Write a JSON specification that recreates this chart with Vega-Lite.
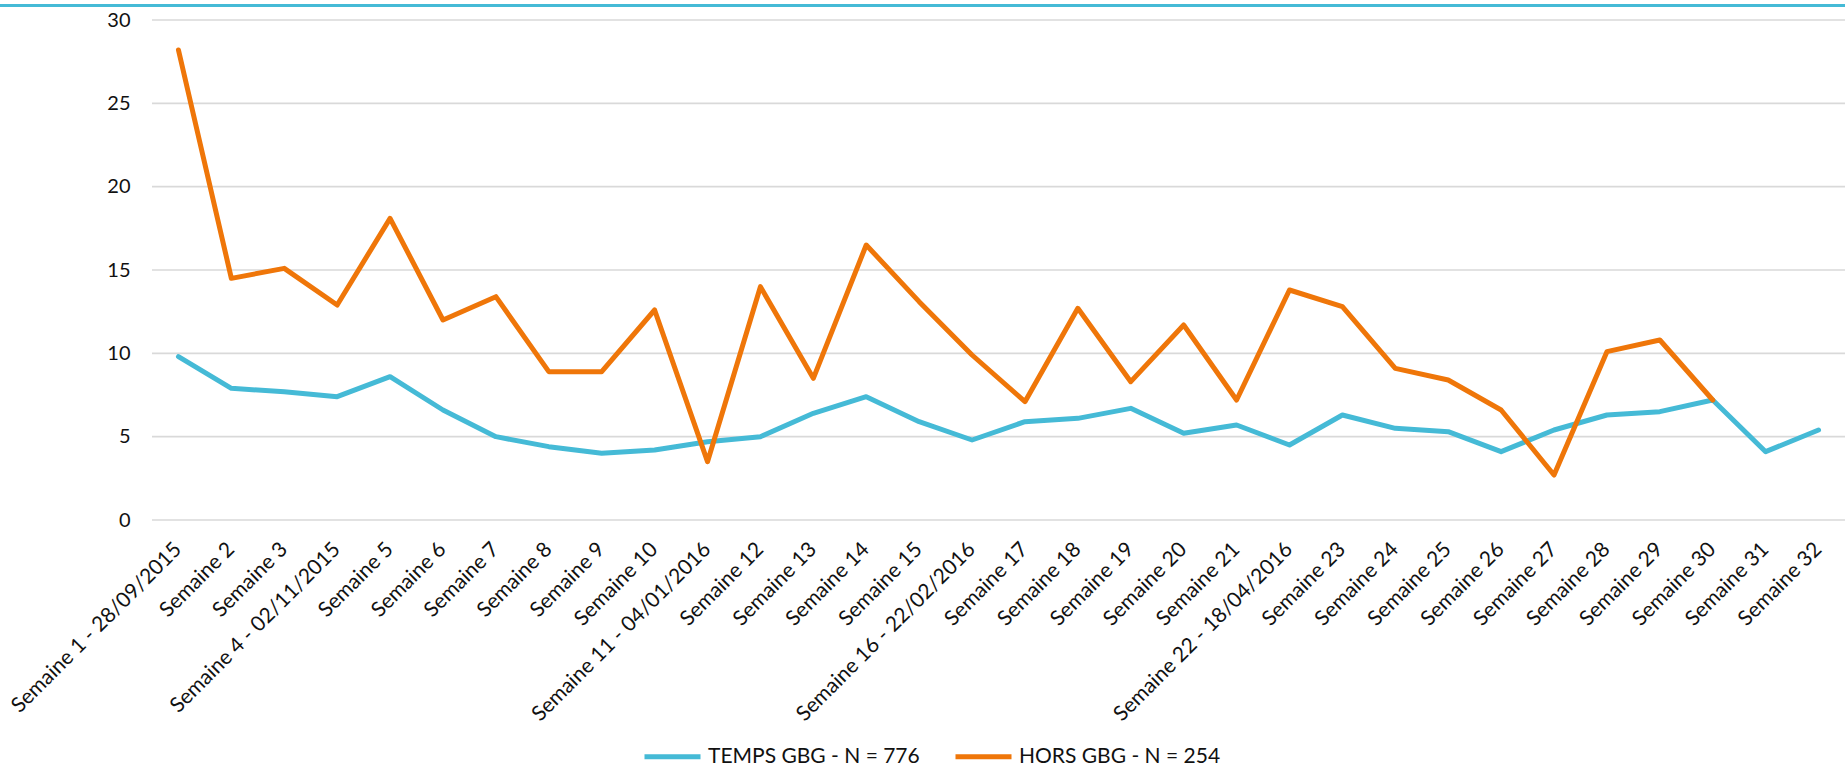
{
  "$schema": "https://vega.github.io/schema/vega-lite/v6.json",
  "width": 1845,
  "height": 500,
  "autosize": {"type": "none"},
  "padding": {"left": 0, "top": 20, "right": 0, "bottom": 259},
  "config": {
    "view": {"stroke": null},
    "font": "Lato",
    "axis": {"labelFont": "Lato", "labelColor": "#111111"}
  },
  "datasets": {
    "grille": [{"v": 0}, {"v": 5}, {"v": 10}, {"v": 15}, {"v": 20}, {"v": 25}, {"v": 30}],
    "semaines": [
      {"semaine": "Semaine 1 - 28/09/2015", "serie": "TEMPS GBG - N = 776", "valeur": 9.8},
      {"semaine": "Semaine 2", "serie": "TEMPS GBG - N = 776", "valeur": 7.9},
      {"semaine": "Semaine 3", "serie": "TEMPS GBG - N = 776", "valeur": 7.7},
      {"semaine": "Semaine 4 - 02/11/2015", "serie": "TEMPS GBG - N = 776", "valeur": 7.4},
      {"semaine": "Semaine 5", "serie": "TEMPS GBG - N = 776", "valeur": 8.6},
      {"semaine": "Semaine 6", "serie": "TEMPS GBG - N = 776", "valeur": 6.6},
      {"semaine": "Semaine 7", "serie": "TEMPS GBG - N = 776", "valeur": 5.0},
      {"semaine": "Semaine 8", "serie": "TEMPS GBG - N = 776", "valeur": 4.4},
      {"semaine": "Semaine 9", "serie": "TEMPS GBG - N = 776", "valeur": 4.0},
      {"semaine": "Semaine 10", "serie": "TEMPS GBG - N = 776", "valeur": 4.2},
      {"semaine": "Semaine 11 - 04/01/2016", "serie": "TEMPS GBG - N = 776", "valeur": 4.7},
      {"semaine": "Semaine 12", "serie": "TEMPS GBG - N = 776", "valeur": 5.0},
      {"semaine": "Semaine 13", "serie": "TEMPS GBG - N = 776", "valeur": 6.4},
      {"semaine": "Semaine 14", "serie": "TEMPS GBG - N = 776", "valeur": 7.4},
      {"semaine": "Semaine 15", "serie": "TEMPS GBG - N = 776", "valeur": 5.9},
      {"semaine": "Semaine 16 - 22/02/2016", "serie": "TEMPS GBG - N = 776", "valeur": 4.8},
      {"semaine": "Semaine 17", "serie": "TEMPS GBG - N = 776", "valeur": 5.9},
      {"semaine": "Semaine 18", "serie": "TEMPS GBG - N = 776", "valeur": 6.1},
      {"semaine": "Semaine 19", "serie": "TEMPS GBG - N = 776", "valeur": 6.7},
      {"semaine": "Semaine 20", "serie": "TEMPS GBG - N = 776", "valeur": 5.2},
      {"semaine": "Semaine 21", "serie": "TEMPS GBG - N = 776", "valeur": 5.7},
      {"semaine": "Semaine 22 - 18/04/2016", "serie": "TEMPS GBG - N = 776", "valeur": 4.5},
      {"semaine": "Semaine 23", "serie": "TEMPS GBG - N = 776", "valeur": 6.3},
      {"semaine": "Semaine 24", "serie": "TEMPS GBG - N = 776", "valeur": 5.5},
      {"semaine": "Semaine 25", "serie": "TEMPS GBG - N = 776", "valeur": 5.3},
      {"semaine": "Semaine 26", "serie": "TEMPS GBG - N = 776", "valeur": 4.1},
      {"semaine": "Semaine 27", "serie": "TEMPS GBG - N = 776", "valeur": 5.4},
      {"semaine": "Semaine 28", "serie": "TEMPS GBG - N = 776", "valeur": 6.3},
      {"semaine": "Semaine 29", "serie": "TEMPS GBG - N = 776", "valeur": 6.5},
      {"semaine": "Semaine 30", "serie": "TEMPS GBG - N = 776", "valeur": 7.2},
      {"semaine": "Semaine 31", "serie": "TEMPS GBG - N = 776", "valeur": 4.1},
      {"semaine": "Semaine 32", "serie": "TEMPS GBG - N = 776", "valeur": 5.4},
      {"semaine": "Semaine 1 - 28/09/2015", "serie": "HORS GBG - N = 254", "valeur": 28.2},
      {"semaine": "Semaine 2", "serie": "HORS GBG - N = 254", "valeur": 14.5},
      {"semaine": "Semaine 3", "serie": "HORS GBG - N = 254", "valeur": 15.1},
      {"semaine": "Semaine 4 - 02/11/2015", "serie": "HORS GBG - N = 254", "valeur": 12.9},
      {"semaine": "Semaine 5", "serie": "HORS GBG - N = 254", "valeur": 18.1},
      {"semaine": "Semaine 6", "serie": "HORS GBG - N = 254", "valeur": 12.0},
      {"semaine": "Semaine 7", "serie": "HORS GBG - N = 254", "valeur": 13.4},
      {"semaine": "Semaine 8", "serie": "HORS GBG - N = 254", "valeur": 8.9},
      {"semaine": "Semaine 9", "serie": "HORS GBG - N = 254", "valeur": 8.9},
      {"semaine": "Semaine 10", "serie": "HORS GBG - N = 254", "valeur": 12.6},
      {"semaine": "Semaine 11 - 04/01/2016", "serie": "HORS GBG - N = 254", "valeur": 3.5},
      {"semaine": "Semaine 12", "serie": "HORS GBG - N = 254", "valeur": 14.0},
      {"semaine": "Semaine 13", "serie": "HORS GBG - N = 254", "valeur": 8.5},
      {"semaine": "Semaine 14", "serie": "HORS GBG - N = 254", "valeur": 16.5},
      {"semaine": "Semaine 15", "serie": "HORS GBG - N = 254", "valeur": 13.1},
      {"semaine": "Semaine 16 - 22/02/2016", "serie": "HORS GBG - N = 254", "valeur": 9.9},
      {"semaine": "Semaine 17", "serie": "HORS GBG - N = 254", "valeur": 7.1},
      {"semaine": "Semaine 18", "serie": "HORS GBG - N = 254", "valeur": 12.7},
      {"semaine": "Semaine 19", "serie": "HORS GBG - N = 254", "valeur": 8.3},
      {"semaine": "Semaine 20", "serie": "HORS GBG - N = 254", "valeur": 11.7},
      {"semaine": "Semaine 21", "serie": "HORS GBG - N = 254", "valeur": 7.2},
      {"semaine": "Semaine 22 - 18/04/2016", "serie": "HORS GBG - N = 254", "valeur": 13.8},
      {"semaine": "Semaine 23", "serie": "HORS GBG - N = 254", "valeur": 12.8},
      {"semaine": "Semaine 24", "serie": "HORS GBG - N = 254", "valeur": 9.1},
      {"semaine": "Semaine 25", "serie": "HORS GBG - N = 254", "valeur": 8.4},
      {"semaine": "Semaine 26", "serie": "HORS GBG - N = 254", "valeur": 6.6},
      {"semaine": "Semaine 27", "serie": "HORS GBG - N = 254", "valeur": 2.7},
      {"semaine": "Semaine 28", "serie": "HORS GBG - N = 254", "valeur": 10.1},
      {"semaine": "Semaine 29", "serie": "HORS GBG - N = 254", "valeur": 10.8},
      {"semaine": "Semaine 30", "serie": "HORS GBG - N = 254", "valeur": 7.2}
    ]
  },
  "layer": [
    {
      "data": {"name": "grille"},
      "mark": {"type": "rule", "color": "#D9D9D9", "strokeWidth": 1.7},
      "encoding": {
        "y": {
          "field": "v",
          "type": "quantitative",
          "scale": {"domain": [0, 30]},
          "axis": {
            "title": null,
            "domain": false,
            "ticks": false,
            "grid": false,
            "values": [0, 5, 10, 15, 20, 25, 30],
            "offset": -152,
            "labelPadding": 22,
            "labelFontSize": 20
          }
        },
        "x": {
          "datum": "Semaine 1 - 28/09/2015",
          "type": "nominal",
          "bandPosition": 0,
          "scale": {
            "type": "band",
            "domain": ["Semaine 1 - 28/09/2015", "Semaine 2", "Semaine 3", "Semaine 4 - 02/11/2015", "Semaine 5", "Semaine 6", "Semaine 7", "Semaine 8", "Semaine 9", "Semaine 10", "Semaine 11 - 04/01/2016", "Semaine 12", "Semaine 13", "Semaine 14", "Semaine 15", "Semaine 16 - 22/02/2016", "Semaine 17", "Semaine 18", "Semaine 19", "Semaine 20", "Semaine 21", "Semaine 22 - 18/04/2016", "Semaine 23", "Semaine 24", "Semaine 25", "Semaine 26", "Semaine 27", "Semaine 28", "Semaine 29", "Semaine 30", "Semaine 31", "Semaine 32"],
            "range": [152, 1845],
            "paddingInner": 0,
            "paddingOuter": 0,
            "round": false
          },
          "axis": {
            "title": null,
            "domain": false,
            "ticks": false,
            "grid": false,
            "labelAngle": -45,
            "labelAlign": "right",
            "labelBaseline": "middle",
            "labelPadding": 26,
            "labelFontSize": 21,
            "labelLimit": 400,
            "labelOverlap": false,
            "labelFlush": false
          }
        },
        "x2": {"value": "width"}
      }
    },
    {
      "data": {"name": "grille"},
      "mark": {"type": "rule", "color": "#45BAD6", "strokeWidth": 3},
      "encoding": {
        "y": {"datum": 30.87, "type": "quantitative"}
      }
    },
    {
      "data": {"name": "semaines"},
      "transform": [{"filter": "datum.serie === 'TEMPS GBG - N = 776'"}],
      "mark": {"type": "line", "strokeWidth": 5, "strokeCap": "round", "strokeJoin": "round"},
      "encoding": {
        "x": {"field": "semaine", "type": "nominal", "sort": null},
        "y": {"field": "valeur", "type": "quantitative"},
        "color": {
          "field": "serie",
          "type": "nominal",
          "scale": {"domain": ["TEMPS GBG - N = 776", "HORS GBG - N = 254"], "range": ["#45BAD6", "#EF7609"]},
          "legend": {
            "title": null,
            "orient": "none",
            "direction": "horizontal",
            "legendX": 642,
            "legendY": 706,
            "symbolType": "stroke",
            "symbolSize": 3136,
            "symbolStrokeWidth": 5,
            "labelFont": "Lato",
            "labelFontSize": 21,
            "labelColor": "#111111",
            "labelOffset": 5,
            "columnPadding": 25,
            "labelLimit": 400
          }
        }
      }
    },
    {
      "data": {"name": "semaines"},
      "transform": [{"filter": "datum.serie === 'HORS GBG - N = 254'"}],
      "mark": {"type": "line", "strokeWidth": 5, "strokeCap": "round", "strokeJoin": "round"},
      "encoding": {
        "x": {"field": "semaine", "type": "nominal", "sort": null},
        "y": {"field": "valeur", "type": "quantitative"},
        "color": {"field": "serie", "type": "nominal"}
      }
    }
  ]
}
